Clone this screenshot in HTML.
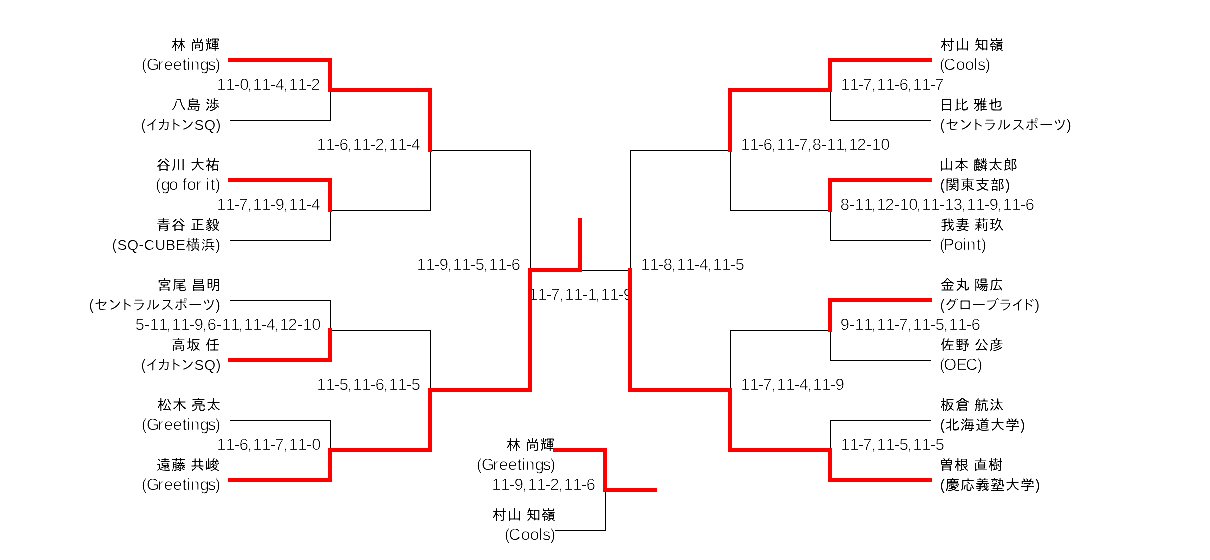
<!DOCTYPE html>
<html lang="ja"><head><meta charset="utf-8">
<style>
html,body{margin:0;padding:0;background:#fff;}
body{width:1210px;height:560px;overflow:hidden;}
svg{display:block;will-change:transform;}
text{font-family:"Liberation Sans","IPAPGothic","IPAGothic","Noto Sans CJK JP",sans-serif;fill:#000;}
.j{font-size:14.5px;}
.n{font-size:14.5px;letter-spacing:0.5px;word-spacing:-0.5px;}
.l,.s{font-size:16.5px;text-rendering:geometricPrecision;stroke:#fff;stroke-width:0.3px;}
.k{stroke:#fff;stroke-width:0.1px;}
.m{stroke:#fff;stroke-width:0.12px;}
</style></head><body>
<svg width="1210" height="560" viewBox="0 0 1210 560">
<rect x="0" y="0" width="1210" height="560" fill="#ffffff"/>
<defs><filter id="crisp" filterUnits="userSpaceOnUse" x="0" y="0" width="1210" height="560" color-interpolation-filters="sRGB"><feComponentTransfer><feFuncR type="table" tableValues="0 0 0 0 0 0 0.1 0.2 0.3 0.4 0.5 0.6 0.7 0.8 0.9 1 1 1 1 1 1"/><feFuncG type="table" tableValues="0 0 0 0 0 0 0.1 0.2 0.3 0.4 0.5 0.6 0.7 0.8 0.9 1 1 1 1 1 1"/><feFuncB type="table" tableValues="0 0 0 0 0 0 0.1 0.2 0.3 0.4 0.5 0.6 0.7 0.8 0.9 1 1 1 1 1 1"/></feComponentTransfer></filter></defs>
<g id="labels" filter="url(#crisp)">
<rect x="0" y="0" width="1210" height="560" fill="#ffffff"/>
<text id="t0" class="n" x="171.25" y="50">林 尚輝</text>
<text id="t1" class="l" x="141.5 146.5 157.75 164 173 182.25 186.75 190.5 200 207.75 215" y="70">(Greetings)</text>
<text id="t2" class="n" x="171.25" y="110">八島 渉</text>
<text id="t3" class="j m" x="141" y="130" textLength="79.81" lengthAdjust="spacing">(イカトンSQ)</text>
<text id="t4" class="n" x="156.25" y="170">谷川 大祐</text>
<text id="t5" class="l" x="155.5 161 169 181 182.25 187 195.75 204.75 205.75 210.5 215" y="190">(go for it)</text>
<text id="t6" class="n" x="156.25" y="230">青谷 正毅</text>
<text id="t7" class="j m" x="112" y="250" textLength="108.34" lengthAdjust="spacing">(SQ-CUBE横浜)</text>
<text id="t8" class="n" x="157.25" y="290">宮尾 昌明</text>
<text id="t9" class="j k" x="89" y="310" textLength="131.45" lengthAdjust="spacing">(セントラルスポーツ)</text>
<text id="t10" class="n" x="171.25" y="350">高坂 任</text>
<text id="t11" class="j m" x="141" y="370" textLength="79.81" lengthAdjust="spacing">(イカトンSQ)</text>
<text id="t12" class="n" x="157.25" y="410">松木 亮太</text>
<text id="t13" class="l" x="141.5 146.5 157.75 164 173 182.25 186.75 190.5 200 207.75 215" y="430">(Greetings)</text>
<text id="t14" class="n" x="156.25" y="470">遠藤 共峻</text>
<text id="t15" class="l" x="141.5 146.5 157.75 164 173 182.25 186.75 190.5 200 207.75 215" y="490">(Greetings)</text>
<text id="t16" class="n" x="940.25" y="50">村山 知嶺</text>
<text id="t17" class="l" x="939.5 943.75 956 965 973.75 977.5 985" y="70">(Cools)</text>
<text id="t18" class="n" x="939.25" y="110">日比 雅也</text>
<text id="t19" class="j k" x="940" y="130" textLength="131.45" lengthAdjust="spacing">(セントラルスポーツ)</text>
<text id="t20" class="n" x="939.25" y="170">山本 麟太郎</text>
<text id="t21" class="j" x="940" y="190" textLength="70" lengthAdjust="spacing">(関東支部)</text>
<text id="t22" class="n" x="940.25" y="230">我妻 莉玖</text>
<text id="t23" class="l" x="939.5 943.25 954 962.75 966.5 976.5 981" y="250">(Point)</text>
<text id="t24" class="n" x="940.25" y="290">金丸 陽広</text>
<text id="t25" class="j k" x="940" y="310" textLength="99.55" lengthAdjust="spacing">(グローブライド)</text>
<text id="t26" class="n" x="940.25" y="350">佐野 公彦</text>
<text id="t27" class="l" x="939.5 943.75 956.25 965.75 977" y="370">(OEC)</text>
<text id="t28" class="n" x="940.25" y="410">板倉 航汰</text>
<text id="t29" class="j" x="940" y="430" textLength="85" lengthAdjust="spacing">(北海道大学)</text>
<text id="t30" class="n" x="939.25" y="470">曽根 直樹</text>
<text id="t31" class="j" x="940" y="490" textLength="100" lengthAdjust="spacing">(慶応義塾大学)</text>
<text id="t32" class="s" x="216.75 225.75 234.25 239.75 247 252.75 261.75 270.25 275.25 283 288.75 297.75 306.25 311" y="90">11-0,11-4,11-2</text>
<text id="t33" class="s" x="216.75 225.75 234.25 238.75 247 252.75 261.75 270.25 275.25 283 288.75 297.75 306.25 311.25" y="210">11-7,11-9,11-4</text>
<text id="t34" class="s" x="135.25 144.25 149.75 158.75 166 171.75 180.75 189.25 194.25 202 207.25 216.25 221.75 230.75 238 243.75 252.75 261.25 266.25 274 279.75 288 297.25 302.75 311.75" y="330">5-11,11-9,6-11,11-4,12-10</text>
<text id="t35" class="s" x="216.75 225.75 234.25 239.25 247 252.75 261.75 270.25 274.75 283 288.75 297.75 306.25 311.75" y="450">11-6,11-7,11-0</text>
<text id="t36" class="s" x="316.75 325.75 334.25 339.25 347 352.75 361.75 370.25 375 383 388.75 397.75 406.25 411.25" y="150">11-6,11-2,11-4</text>
<text id="t37" class="s" x="316.75 325.75 334.25 339.25 347 352.75 361.75 370.25 375.25 383 388.75 397.75 406.25 411.25" y="390">11-5,11-6,11-5</text>
<text id="t38" class="s" x="416.75 425.75 434.25 439.25 447 452.75 461.75 470.25 475.25 483 488.75 497.75 506.25 511.25" y="270">11-9,11-5,11-6</text>
<text id="t39" class="s" x="840.75 849.75 858.25 862.75 871 876.75 885.75 894.25 899.25 907 912.75 921.75 930.25 934.75" y="90">11-7,11-6,11-7</text>
<text id="t40" class="s" x="840.25 849.25 854.75 863.75 871 876.75 885 894.25 899.75 908.75 916 921.75 930.75 939.25 944.75 953.25 961 966.75 975.75 984.25 989.25 997 1002.75 1011.75 1020.25 1025.25" y="210">8-11,12-10,11-13,11-9,11-6</text>
<text id="t41" class="s" x="840.25 849.25 854.75 863.75 871 876.75 885.75 894.25 898.75 907 912.75 921.75 930.25 935.25 943 948.75 957.75 966.25 971.25" y="330">9-11,11-7,11-5,11-6</text>
<text id="t42" class="s" x="840.75 849.75 858.25 862.75 871 876.75 885.75 894.25 899.25 907 912.75 921.75 930.25 935.25" y="450">11-7,11-5,11-5</text>
<text id="t43" class="s" x="740.75 749.75 758.25 763.25 771 776.75 785.75 794.25 798.75 807 812.25 821.25 826.75 835.75 843 848.75 857 866.25 871.75 880.75" y="150">11-6,11-7,8-11,12-10</text>
<text id="t44" class="s" x="740.75 749.75 758.25 762.75 771 776.75 785.75 794.25 799.25 807 812.75 821.75 830.25 835.25" y="390">11-7,11-4,11-9</text>
<text id="t45" class="s" x="640.75 649.75 658.25 663.25 671 676.75 685.75 694.25 699.25 707 712.75 721.75 730.25 735.25" y="270">11-8,11-4,11-5</text>
<text id="t46" class="s" x="528.75 537.75 546.25 550.75 559 564.75 573.75 582.25 587.75 595 600.75 609.75 618.25 623.25" y="300">11-7,11-1,11-9</text>
<text id="t47" class="n" x="506.25" y="450">林 尚輝</text>
<text id="t48" class="l" x="476.5 481.5 492.75 499 508 517.25 521.75 525.5 535 542.75 550" y="470">(Greetings)</text>
<text id="t49" class="s" x="491.75 500.75 509.25 514.25 522 527.75 536.75 545.25 550 558 563.75 572.75 581.25 586.25" y="490">11-9,11-2,11-6</text>
<text id="t50" class="n" x="492.25" y="520">村山 知嶺</text>
<text id="t51" class="l" x="504.5 508.75 521 530 538.75 542.5 550" y="540">(Cools)</text>
</g>
<g id="lines" shape-rendering="crispEdges">
<rect x="230" y="120" width="101" height="1" fill="#000000"/>
<rect x="330" y="90" width="1" height="31" fill="#000000"/>
<rect x="230" y="240" width="101" height="1" fill="#000000"/>
<rect x="330" y="210" width="1" height="31" fill="#000000"/>
<rect x="230" y="300" width="101" height="1" fill="#000000"/>
<rect x="330" y="300" width="1" height="31" fill="#000000"/>
<rect x="230" y="420" width="101" height="1" fill="#000000"/>
<rect x="330" y="420" width="1" height="31" fill="#000000"/>
<rect x="330" y="210" width="101" height="1" fill="#000000"/>
<rect x="430" y="150" width="1" height="61" fill="#000000"/>
<rect x="330" y="330" width="101" height="1" fill="#000000"/>
<rect x="430" y="330" width="1" height="61" fill="#000000"/>
<rect x="430" y="150" width="101" height="1" fill="#000000"/>
<rect x="530" y="150" width="1" height="121" fill="#000000"/>
<rect x="830" y="120" width="101" height="1" fill="#000000"/>
<rect x="830" y="90" width="1" height="31" fill="#000000"/>
<rect x="830" y="240" width="101" height="1" fill="#000000"/>
<rect x="830" y="210" width="1" height="31" fill="#000000"/>
<rect x="830" y="360" width="101" height="1" fill="#000000"/>
<rect x="830" y="330" width="1" height="31" fill="#000000"/>
<rect x="830" y="420" width="101" height="1" fill="#000000"/>
<rect x="830" y="420" width="1" height="31" fill="#000000"/>
<rect x="730" y="210" width="101" height="1" fill="#000000"/>
<rect x="730" y="150" width="1" height="61" fill="#000000"/>
<rect x="730" y="330" width="101" height="1" fill="#000000"/>
<rect x="730" y="330" width="1" height="61" fill="#000000"/>
<rect x="630" y="150" width="101" height="1" fill="#000000"/>
<rect x="630" y="150" width="1" height="121" fill="#000000"/>
<rect x="580" y="270" width="51" height="1" fill="#000000"/>
<rect x="555" y="530" width="51" height="1" fill="#000000"/>
<rect x="605" y="490" width="1" height="41" fill="#000000"/>
<rect x="228" y="58" width="104" height="4" fill="#ff0000"/>
<rect x="328" y="58" width="4" height="34" fill="#ff0000"/>
<rect x="228" y="178" width="104" height="4" fill="#ff0000"/>
<rect x="328" y="178" width="4" height="34" fill="#ff0000"/>
<rect x="228" y="358" width="104" height="4" fill="#ff0000"/>
<rect x="328" y="328" width="4" height="34" fill="#ff0000"/>
<rect x="228" y="478" width="104" height="4" fill="#ff0000"/>
<rect x="328" y="448" width="4" height="34" fill="#ff0000"/>
<rect x="328" y="88" width="104" height="4" fill="#ff0000"/>
<rect x="428" y="88" width="4" height="64" fill="#ff0000"/>
<rect x="328" y="448" width="104" height="4" fill="#ff0000"/>
<rect x="428" y="388" width="4" height="64" fill="#ff0000"/>
<rect x="428" y="388" width="104" height="4" fill="#ff0000"/>
<rect x="528" y="268" width="4" height="124" fill="#ff0000"/>
<rect x="828" y="58" width="104" height="4" fill="#ff0000"/>
<rect x="828" y="58" width="4" height="34" fill="#ff0000"/>
<rect x="828" y="178" width="104" height="4" fill="#ff0000"/>
<rect x="828" y="178" width="4" height="34" fill="#ff0000"/>
<rect x="828" y="298" width="104" height="4" fill="#ff0000"/>
<rect x="828" y="298" width="4" height="34" fill="#ff0000"/>
<rect x="828" y="478" width="104" height="4" fill="#ff0000"/>
<rect x="828" y="448" width="4" height="34" fill="#ff0000"/>
<rect x="728" y="88" width="104" height="4" fill="#ff0000"/>
<rect x="728" y="88" width="4" height="64" fill="#ff0000"/>
<rect x="728" y="448" width="104" height="4" fill="#ff0000"/>
<rect x="728" y="388" width="4" height="64" fill="#ff0000"/>
<rect x="628" y="388" width="104" height="4" fill="#ff0000"/>
<rect x="628" y="268" width="4" height="124" fill="#ff0000"/>
<rect x="528" y="268" width="54" height="4" fill="#ff0000"/>
<rect x="578" y="218" width="4" height="54" fill="#ff0000"/>
<rect x="553" y="448" width="54" height="4" fill="#ff0000"/>
<rect x="603" y="448" width="4" height="44" fill="#ff0000"/>
<rect x="603" y="488" width="54" height="4" fill="#ff0000"/>
</g>
</svg>
</body></html>
